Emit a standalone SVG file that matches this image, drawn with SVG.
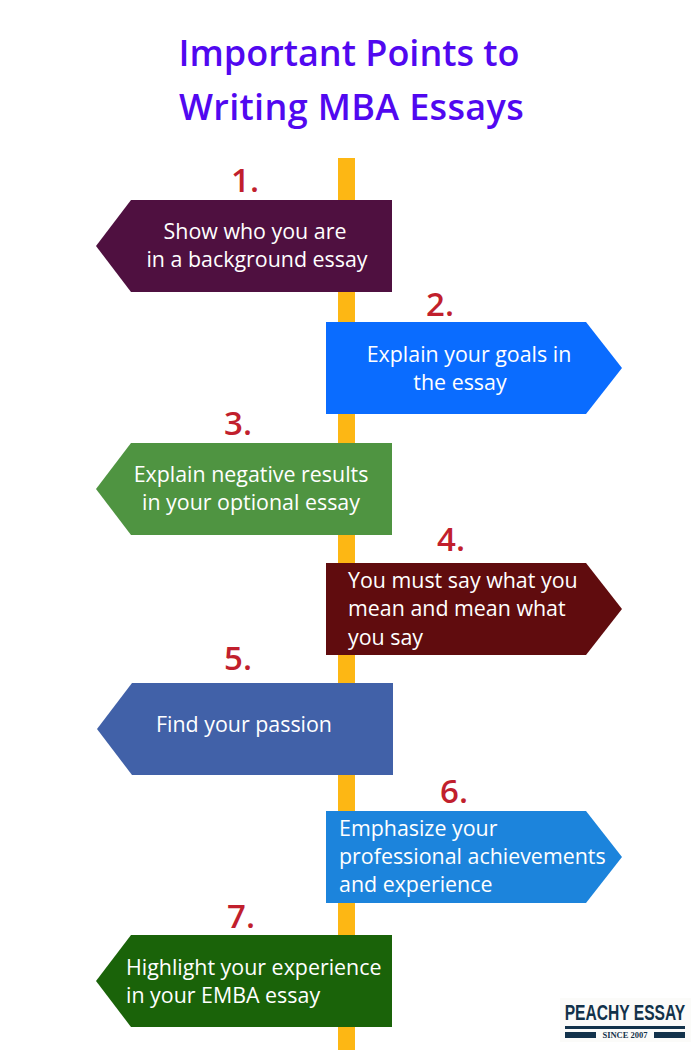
<svg xmlns="http://www.w3.org/2000/svg" width="700" height="1050" viewBox="0 0 700 1050">
<style>
text{font-family:"Open Sans","Noto Sans",sans-serif}
.t{font-size:36px;font-weight:600;fill:#5108f0;text-anchor:middle}
.l{font-size:21.4px;fill:#fff}
.m{text-anchor:middle}
.n{font-size:33px;font-weight:600;fill:#c11f2d;text-anchor:middle}
.b{fill:#12324a}
</style>
<rect width="700" height="1050" fill="#fff"/>
<g id="title">
<text class="t" x="349" y="66">Important Points to</text>
<text class="t" x="351.500" y="120" letter-spacing=".35">Writing MBA Essays</text>
</g>
<g id="connectors"><rect x="338" y="158" width="17" height="892" fill="#fdb714"/></g>
<g id="node1"><path d="M131 200H392V292H131L96 246Z" fill="#4f1040"/>
<text class="n" x="245" y="192">1.</text>
<text class="l m" x="255" y="239">Show who you are</text><text class="l m" x="257" y="267">in a background essay</text></g>
<g id="node2"><path d="M326 322H586L622 368L586 414H326Z" fill="#0a6cff"/>
<text class="n" x="440" y="316">2.</text>
<text class="l m" x="469" y="362">Explain your goals in</text><text class="l m" x="460" y="390">the essay</text></g>
<g id="node3"><path d="M131 443H392V535H131L96 489Z" fill="#4f9441"/>
<text class="n" x="238" y="435">3.</text>
<text class="l m" x="251" y="482">Explain negative results</text><text class="l m" x="251" y="510">in your optional essay</text></g>
<g id="node4"><path d="M326 563H586L622 609L586 655H326Z" fill="#600c0e"/>
<text class="n" x="451" y="551">4.</text>
<text class="l" x="348" y="588">You must say what you</text><text class="l" x="348" y="616">mean and mean what</text><text class="l" x="348" y="645">you say</text></g>
<g id="node5"><path d="M132 683H393V775H132L97 729Z" fill="#4161a8"/>
<text class="n" x="238" y="670">5.</text>
<text class="l m" x="244" y="732">Find your passion</text></g>
<g id="node6"><path d="M326 811H586L622 857L586 903H326Z" fill="#1c84dc"/>
<text class="n" x="454" y="803">6.</text>
<text class="l" x="339" y="836">Emphasize your</text><text class="l" x="339" y="864">professional achievements</text><text class="l" x="339" y="892">and experience</text></g>
<g id="node7"><path d="M131 935H392V1027H131L96 981Z" fill="#1a6309"/>
<text class="n" x="241" y="928">7.</text>
<text class="l" x="126" y="975">Highlight your experience</text><text class="l" x="126" y="1003">in your EMBA essay</text></g>
<g id="logo"><rect x="560" y="998" width="131" height="44" fill="#fbfbf9"/>
<text class="b" transform="translate(625 1020) scale(.71 1)" text-anchor="middle" style="font-family:'Liberation Sans',sans-serif" font-weight="700" font-size="22">PEACHY ESSAY</text>
<rect class="b" x="565" y="1026" width="120" height="3"/>
<rect class="b" x="565" y="1032" width="31" height="6"/><rect class="b" x="654" y="1032" width="31" height="6"/>
<text class="b" x="625" y="1038" text-anchor="middle" font-weight="700" font-size="8.500" style="font-family:'Liberation Serif',serif">SINCE 2007</text></g>
</svg>
